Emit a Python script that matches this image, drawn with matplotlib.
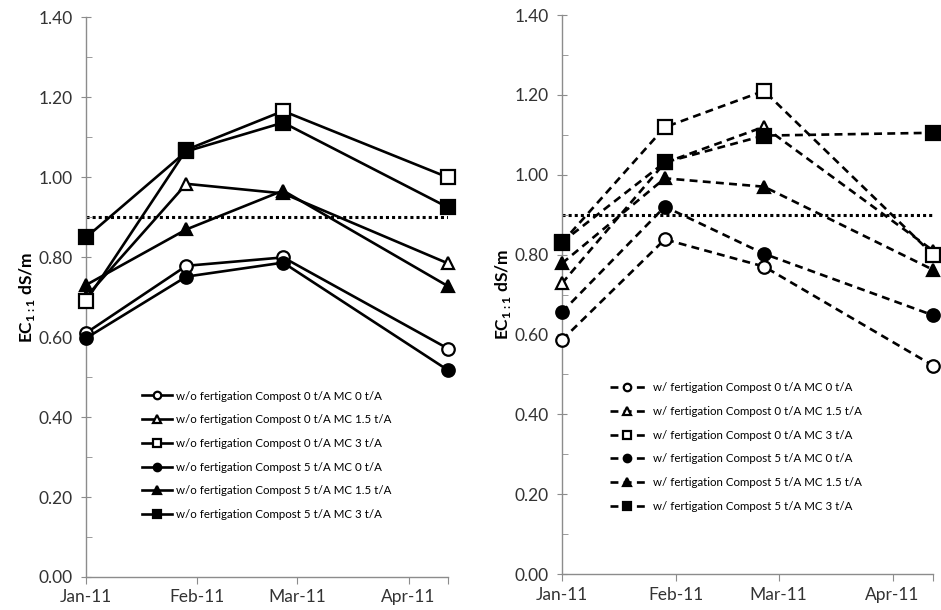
import matplotlib
matplotlib.use("Agg")
import matplotlib.pyplot as plt
import numpy as np
import pandas as pd

plt.rcParams['font.family'] = ['Lato', 'DejaVu Sans']

dates = pd.to_datetime(["2011-01-01", "2011-01-29", "2011-02-25", "2011-04-12"])
month_ticks = pd.to_datetime(["2011-01-01", "2011-02-01", "2011-03-01", "2011-04-01"])
month_labels = ["Jan-11", "Feb-11", "Mar-11", "Apr-11"]

treatments = ["Compost 0 t/A MC 0 t/A", "Compost 0 t/A MC 1.5 t/A", "Compost 0 t/A MC 3 t/A",
              "Compost 5 t/A MC 0 t/A", "Compost 5 t/A MC 1.5 t/A", "Compost 5 t/A MC 3 t/A"]

# EC values without fertigation (left) and with fertigation (right)
wo_c0_mc0 = [0.61, 0.778, 0.799, 0.571]
wo_c0_mc15 = [0.70, 0.983, 0.959, 0.784]
wo_c0_mc3 = [0.69, 1.068, 1.165, 0.999]
wo_c5_mc0 = [0.597, 0.751, 0.786, 0.517]
wo_c5_mc15 = [0.73, 0.869, 0.966, 0.727]
wo_c5_mc3 = [0.849, 1.064, 1.136, 0.924]

w_c0_mc0 = [0.586, 0.838, 0.770, 0.522]
w_c0_mc15 = [0.728, 1.03, 1.12, 0.81]
w_c0_mc3 = [0.83, 1.119, 1.210, 0.80]
w_c5_mc0 = [0.656, 0.920, 0.802, 0.648]
w_c5_mc15 = [0.778, 0.991, 0.970, 0.762]
w_c5_mc3 = [0.831, 1.031, 1.098, 1.105]

threshold = 0.9

wo_series = [wo_c0_mc0, wo_c0_mc15, wo_c0_mc3, wo_c5_mc0, wo_c5_mc15, wo_c5_mc3]
w_series = [w_c0_mc0, w_c0_mc15, w_c0_mc3, w_c5_mc0, w_c5_mc15, w_c5_mc3]
markers = ['o', '^', 's', 'o', '^', 's']
fills = ['white', 'white', 'white', 'black', 'black', 'black']
sizes = [9, 9, 9.5, 9, 9, 9.5]

fig = plt.figure(figsize=(9.41, 6.10), dpi=100)
ax1 = fig.add_axes([0.0914, 0.0541, 0.3847, 0.918])
ax2 = fig.add_axes([0.5972, 0.0590, 0.3943, 0.9164])


def style_axis(ax):
    ax.set_xlim(dates[0], dates[-1])
    ax.set_ylim(0, 1.4)
    ax.set_yticks(np.arange(0, 1.41, 0.2))
    ax.set_yticklabels([f"{v:.2f}" for v in np.arange(0, 1.41, 0.2)])
    ax.set_yticks(np.arange(0.1, 1.4, 0.2), minor=True)
    ax.set_xticks(list(month_ticks) + [dates[-1]])
    ax.set_xticklabels(month_labels + [""])
    for s in ['top', 'right']:
        ax.spines[s].set_visible(False)
    for s in ['left', 'bottom']:
        ax.spines[s].set_color('#8c8c8c')
        ax.spines[s].set_linewidth(1.0)
    ax.tick_params(axis='y', which='major', direction='inout', length=7, color='#8c8c8c',
                   labelsize=12.5, labelcolor='#333333', pad=6)
    ax.tick_params(axis='y', which='minor', direction='in', length=4, color='#8c8c8c')
    ax.tick_params(axis='x', which='major', direction='out', length=5, color='#8c8c8c',
                   labelsize=12.5, labelcolor='#333333', pad=4)
    ax.set_ylabel("EC$_{\\mathregular{1:1}}$ dS/m", fontsize=12.5, fontweight='bold', labelpad=1)
    ax.axhline(threshold, color='black', linestyle=(0, (1, 1)), lw=2.2, zorder=1)


for ax, series, prefix, ls in [(ax1, wo_series, "w/o fertigation", '-'),
                               (ax2, w_series, "w/ fertigation", (0, (3, 2)))]:
    style_axis(ax)
    for vals, mk, fc, ms, name in zip(series, markers, fills, sizes, treatments):
        ax.plot(dates, vals, linestyle=ls, color='black', lw=1.9, marker=mk, markersize=ms,
                markerfacecolor=fc, markeredgecolor='black', markeredgewidth=1.6,
                label=f"{prefix} {name}", clip_on=False, zorder=3)

ax1.legend(loc='upper left', bbox_to_anchor=(0.155, 0.333), frameon=False, fontsize=8.3,
           handlelength=2.6, handletextpad=0.3, labelspacing=1.1, borderaxespad=0,
           borderpad=0, markerscale=0.6)
ax2.legend(loc='upper left', bbox_to_anchor=(0.13, 0.343), frameon=False, fontsize=8.3,
           handlelength=3.0, handletextpad=0.7, labelspacing=1.1, borderaxespad=0,
           borderpad=0, markerscale=0.6)

fig.savefig("out.png", dpi=100)
